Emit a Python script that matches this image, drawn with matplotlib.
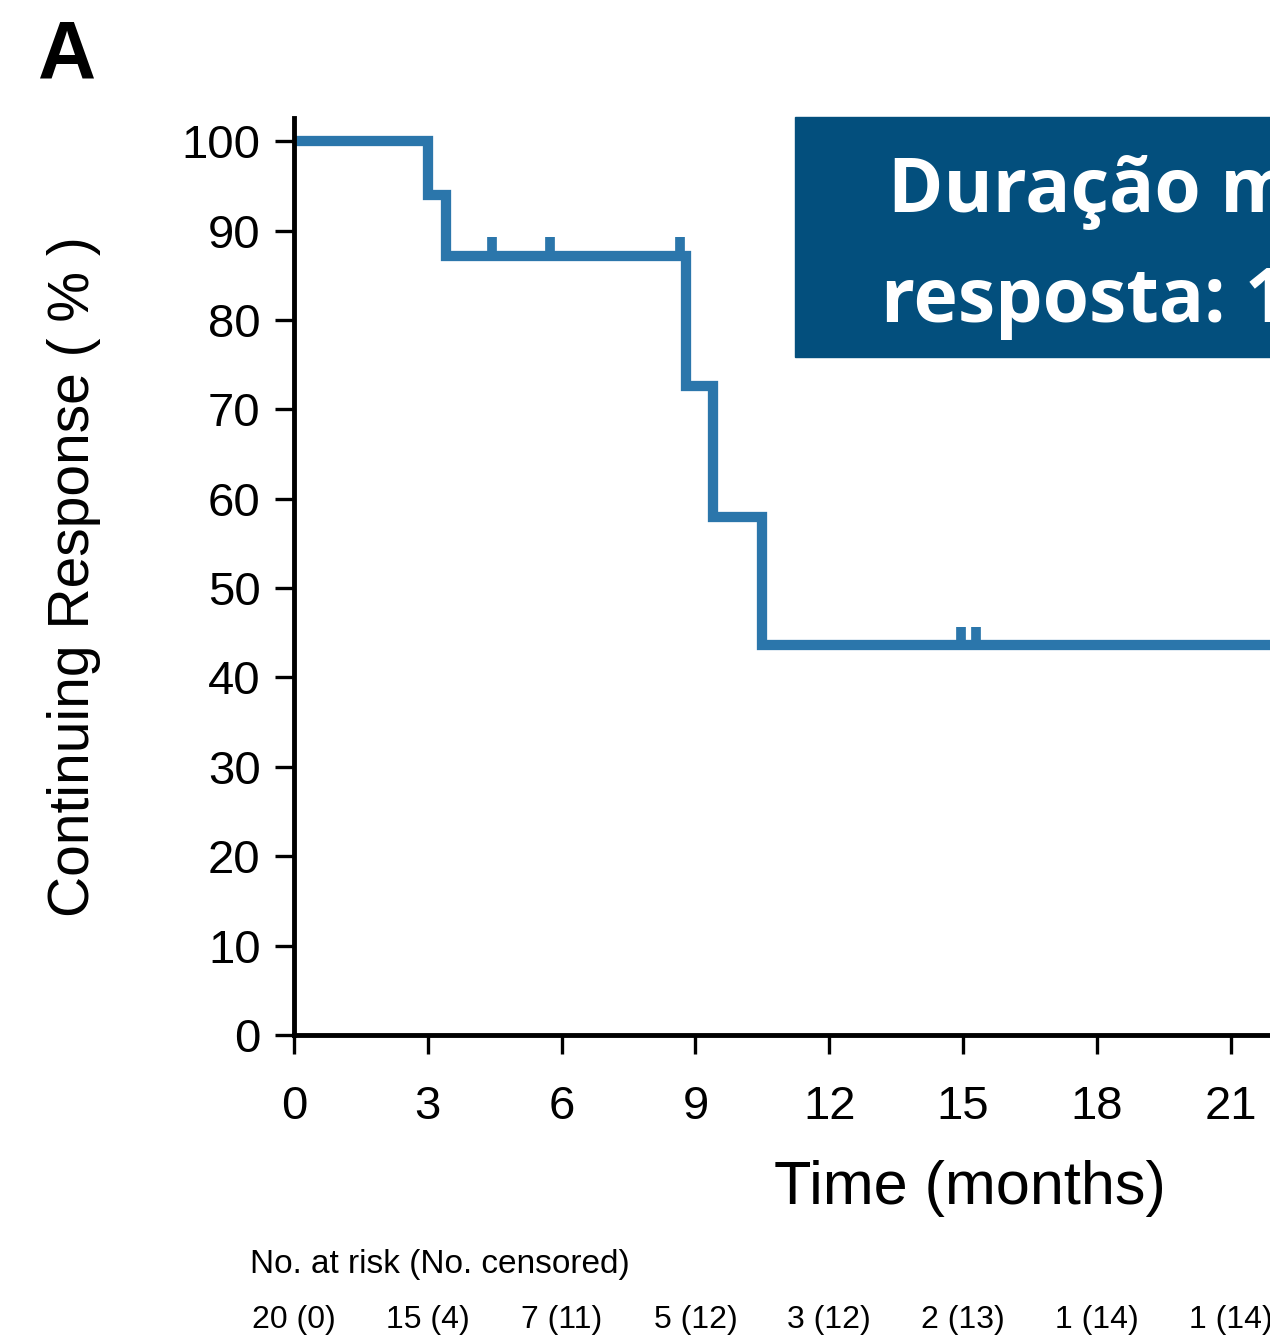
import numpy as np
import matplotlib.pyplot as plt
from matplotlib.patches import Rectangle
from matplotlib.transforms import blended_transform_factory

# Kaplan-Meier step curve (months, % continuing response)
step_times = [0, 3.0, 3.4, 8.8, 9.4, 10.5]
step_levels = [100, 94.0, 87.2, 72.6, 58.0, 43.6]
censor_times = [4.45, 5.75, 8.65, 14.95, 15.3]
x_ticks = [0, 3, 6, 9, 12, 15, 18, 21]
y_ticks = [0, 10, 20, 30, 40, 50, 60, 70, 80, 90, 100]
at_risk = ["20 (0)", "15 (4)", "7 (11)", "5 (12)", "3 (12)", "2 (13)", "1 (14)", "1 (14)"]
box_lines = ["Duração mediana da", "resposta: 10,5 meses"]

plt.rcParams['font.family'] = ['Liberation Sans', 'DejaVu Sans']

blue = '#2B76AB'
W, H = 1270, 1337
fig = plt.figure(figsize=(W / 100, H / 100), dpi=100)
ax = fig.add_axes([294 / W, 1 - 1035 / H, 1 - 294 / W, 917 / H])

xmax = (W - 294) / 44.6
t_end = xmax + 1
xs = step_times + [t_end]
ys = step_levels + [step_levels[-1]]
ax.step(xs, ys, where='post', color=blue, lw=7.4, solid_joinstyle='miter',
        solid_capstyle='butt')

# censor marks: short upward ticks at the current level
for t in censor_times:
    idx = np.searchsorted(step_times, t, side='right') - 1
    lvl = step_levels[idx]
    ax.vlines(t, lvl, lvl + 2.1, color=blue, lw=7)

ax.set_xlim(0, xmax)
ax.set_ylim(0, 102.6)
ax.set_xticks(x_ticks)
ax.set_yticks(y_ticks)
ax.tick_params(axis='both', direction='out', length=14, width=2.4, color='black',
               labelsize=34)
ax.tick_params(axis='x', pad=22)
ax.tick_params(axis='y', pad=10)
for s in ['top', 'right']:
    ax.spines[s].set_visible(False)
for s in ['left', 'bottom']:
    ax.spines[s].set_linewidth(3.5)

ax.set_ylabel("Continuing Response ( % )", fontsize=41, labelpad=58)
ax.set_xlabel("Time (months)", fontsize=44)
ax.xaxis.set_label_coords((970 - 294) / (W - 294), -(1160 - 1035) / 917)

# panel letter
fig.text(38 / W, 1 - 77 / H, "A", fontsize=58, fontweight='bold',
         ha='left', va='baseline')

# risk table
fig.text(250 / W, 1 - 1265 / H, "No. at risk (No. censored)", fontsize=24,
         ha='left', va='center')
tr = blended_transform_factory(ax.transData, fig.transFigure)
for x, lab in zip(x_ticks, at_risk):
    fig.text(x, 1 - 1320 / H, lab, transform=tr, fontsize=23, ha='center',
             va='center')

# highlighted box
fig.patches.append(Rectangle((795 / W, 1 - 357 / H), 1.0, 240 / H,
                             transform=fig.transFigure, color='#034F7D', zorder=5))
for (x0, yb), line in zip([(888, 212), (881, 322)], box_lines):
    fig.text(x0 / W, 1 - yb / H, line, fontsize=54, fontweight='bold',
             color='white', family=['Open Sans', 'DejaVu Sans'], ha='left',
             va='baseline', zorder=6)

fig.savefig("out.png", dpi=100)
